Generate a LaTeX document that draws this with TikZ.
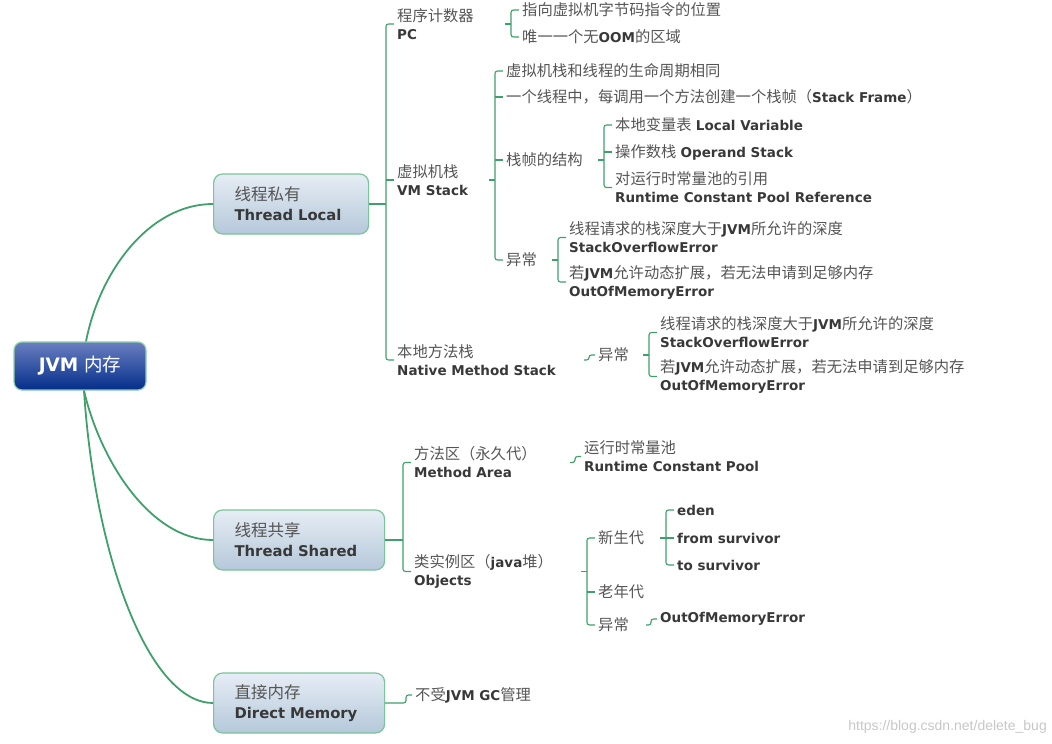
\documentclass[tikz,border=0pt]{standalone}
\usepackage{fontspec}
\setmainfont{DejaVu Sans}
\newfontfamily\cjk{Noto Sans CJK SC}
\newfontfamily\wmfont{Liberation Sans}
\usetikzlibrary{calc}
\definecolor{lnk}{HTML}{3FA06C}
\definecolor{boxb}{HTML}{79C49A}
\definecolor{boxt}{HTML}{E6EDF5}
\definecolor{boxbtm}{HTML}{B5C8DA}
\definecolor{roott}{HTML}{6A7FC0}
\definecolor{rootm}{HTML}{1C3D94}
\definecolor{rootb}{HTML}{032E8A}
\definecolor{rootbd}{HTML}{8FD0A8}
\definecolor{zhc}{HTML}{555555}
\definecolor{enc}{HTML}{383838}
\newcommand\zh[1]{{\cjk\fontsize{15.3}{18}\selectfont\color{zhc}#1}}
\newcommand\en[1]{{\bfseries\color{enc}#1}}
\newcommand\zhb[1]{{\cjk\fontsize{16.5}{20}\selectfont\color{zhc}#1}}
\newcommand\leaffont{\fontsize{13.5}{18}\selectfont}
\newcommand\boxfont{\fontsize{14.8}{20}\selectfont}
\begin{document}
\begin{tikzpicture}[x=1pt,y=-1pt,
  conn/.style={draw=lnk,line width=1.1pt,rounded corners=2.5pt},
  trunk/.style={draw=lnk,line width=1.8pt},
  leaf/.style={anchor=west,xshift=-3pt,inner xsep=3pt,inner ysep=1pt,align=left,font=\leaffont},
  mbox/.style={anchor=west,draw=boxb,line width=1.2pt,rounded corners=9pt,
    top color=boxt,bottom color=boxbtm,inner xsep=21pt,minimum height=60pt,align=left,font=\boxfont},
  rootbox/.style={draw=rootbd,line width=1.2pt,rounded corners=8pt,top color=roott,
    middle color=rootm,bottom color=rootb,minimum width=132pt,minimum height=48pt,
    text=white,font=\fontsize{18.5}{20}\selectfont}
]
\useasboundingbox (0,0) rectangle (1052,744);

% main boxes
\node[rootbox] (root) at (80,366) {\textbf{JVM} {\cjk 内存}};
\node[mbox,text width=113pt] (tl) at (213,204) {\zhb{线程私有}\\\en{Thread Local}};
\node[mbox,text width=129pt] (ts) at (213,540) {\zhb{线程共享}\\\en{Thread Shared}};
\node[mbox,text width=129pt] (dm) at (213,703) {\zhb{直接内存}\\\en{Direct Memory}};

\draw[trunk] ([xshift=6pt]root.north) .. controls (100,270) and (150,204) .. (tl.west);
\draw[trunk] ([xshift=4pt]root.south) .. controls (100,460) and (150,540) .. (ts.west);
\draw[trunk] ([xshift=4pt]root.south) .. controls (95,560) and (150,703) .. (dm.west);

% Thread Local children
\node[leaf] (pc) at (397,24) {\zh{程序计数器}\\\en{PC}};
\node[leaf] (vms) at (397,180) {\zh{虚拟机栈}\\\en{VM Stack}};
\node[leaf] (nms) at (397,360) {\zh{本地方法栈}\\\en{Native Method Stack}};

\node[leaf] (pc1) at (522,10) {\zh{指向虚拟机字节码指令的位置}};
\node[leaf] (pc2) at (522,37) {\zh{唯一一个无}\en{OOM}\zh{的区域}};

\node[leaf] (v1) at (506,71) {\zh{虚拟机栈和线程的生命周期相同}};
\node[leaf] (v2) at (506,97) {\zh{一个线程中，每调用一个方法创建一个栈帧（}\en{Stack Frame}\zh{）}};
\node[leaf] (v3) at (506,160) {\zh{栈帧的结构}};
\node[leaf] (v4) at (506,260) {\zh{异常}};

\node[leaf] (f1) at (615,125) {\zh{本地变量表} \en{Local Variable}};
\node[leaf] (f2) at (615,152) {\zh{操作数栈} \en{Operand Stack}};
\node[leaf] (f3) at (615,187.5) {\zh{对运行时常量池的引用}\\\en{Runtime Constant Pool Reference}};

\node[leaf] (e1) at (569,237.5) {\zh{线程请求的栈深度大于}\en{JVM}\zh{所允许的深度}\\\en{StackOverflowError}};
\node[leaf] (e2) at (569,282) {\zh{若}\en{JVM}\zh{允许动态扩展，若无法申请到足够内存}\\\en{OutOfMemoryError}};

\node[leaf] (ne) at (598,355) {\zh{异常}};
\node[leaf] (ne1) at (660,332.5) {\zh{线程请求的栈深度大于}\en{JVM}\zh{所允许的深度}\\\en{StackOverflowError}};
\node[leaf] (ne2) at (660,376.5) {\zh{若}\en{JVM}\zh{允许动态扩展，若无法申请到足够内存}\\\en{OutOfMemoryError}};

% Thread Shared children
\node[leaf] (ma) at (414,462.5) {\zh{方法区（永久代）}\\\en{Method Area}};
\node[leaf] (ob) at (414,571.5) {\zh{类实例区（}\en{java}\zh{堆）}\\\en{Objects}};
\node[leaf] (rcp) at (584,456.5) {\zh{运行时常量池}\\\en{Runtime Constant Pool}};
\node[leaf] (yg) at (598,538) {\zh{新生代}};
\node[leaf] (og) at (598,592) {\zh{老年代}};
\node[leaf] (oe) at (598,625) {\zh{异常}};
\node[leaf] (eden) at (677,510) {\en{eden}};
\node[leaf] (fs) at (677,538) {\en{from survivor}};
\node[leaf] (tsv) at (677,565) {\en{to survivor}};
\node[leaf] (oom) at (660,619) {\en{OutOfMemoryError}};

% Direct Memory child
\node[leaf] (dm1) at (415,695) {\zh{不受}\en{JVM GC}\zh{管理}};

% watermark
\node[anchor=east,inner sep=0pt,text=black!22,font=\wmfont\fontsize{14}{16}\selectfont] (wm) at (1047,727) {https://blog.csdn.net/delete\_bug};

% ---- bracket connectors ----
% Thread Local
\coordinate (bTL) at ($(pc.west)+(-8,0)$);
\draw[conn] (tl.east) -- (tl.east -| bTL);
\draw[conn] (pc.west) -- (pc.west -| bTL) -- (nms.west -| bTL) -- (nms.west);
\draw[conn] (vms.west -| bTL) -- (vms.west);

% PC
\coordinate (bPC) at ($(pc1.west)+(-8,0)$);
\draw[conn] ($(pc.east -| bPC)+(-6,0)$) -- (pc.east -| bPC);
\draw[conn] (pc1.west) -- (pc1.west -| bPC) -- (pc2.west -| bPC) -- (pc2.west);

% VM Stack
\coordinate (bVM) at ($(v1.west)+(-8,0)$);
\draw[conn] ($(vms.east -| bVM)+(-6,0)$) -- (vms.east -| bVM);
\draw[conn] (v1.west) -- (v1.west -| bVM) -- (v4.west -| bVM) -- (v4.west);
\draw[conn] (v2.west -| bVM) -- (v2.west);
\draw[conn] (v3.west -| bVM) -- (v3.west);

% frame structure
\coordinate (bF) at ($(f1.west)+(-8,0)$);
\draw[conn] ($(v3.east -| bF)+(-6,0)$) -- (v3.east -| bF);
\draw[conn] (f1.west) -- (f1.west -| bF) -- (f3.west -| bF) -- (f3.west);
\draw[conn] (f2.west -| bF) -- (f2.west);

% VM stack exceptions
\coordinate (bE) at ($(e1.west)+(-8,0)$);
\draw[conn] ($(v4.east -| bE)+(-6,0)$) -- (v4.east -| bE);
\draw[conn] (e1.west) -- (e1.west -| bE) -- (e2.west -| bE) -- (e2.west);

% Native method stack -> exception
\coordinate (bN) at ($(ne.west)+(-6,0)$);
\draw[conn] ($(nms.east -| bN)+(-5,0)$) -- (nms.east -| bN) -- (ne.west -| bN) -- (ne.west);
\coordinate (bNE) at ($(ne1.west)+(-8,0)$);
\draw[conn] ($(ne.east -| bNE)+(-6,0)$) -- (ne.east -| bNE);
\draw[conn] (ne1.west) -- (ne1.west -| bNE) -- (ne2.west -| bNE) -- (ne2.west);

% Thread Shared
\coordinate (bTS) at ($(ma.west)+(-8,0)$);
\draw[conn] (ts.east) -- (ts.east -| bTS);
\draw[conn] (ma.west) -- (ma.west -| bTS) -- (ob.west -| bTS) -- (ob.west);

% Method area -> runtime constant pool
\coordinate (bMA) at ($(rcp.west)+(-6,0)$);
\draw[conn] ($(ma.east -| bMA)+(-5,0)$) -- (ma.east -| bMA) -- (rcp.west -| bMA) -- (rcp.west);

% Objects
\coordinate (bOB) at ($(yg.west)+(-8,0)$);
\draw[conn] ($(ob.east -| bOB)+(-6,0)$) -- (ob.east -| bOB);
\draw[conn] (yg.west) -- (yg.west -| bOB) -- (oe.west -| bOB) -- (oe.west);
\draw[conn] (og.west -| bOB) -- (og.west);

% young generation
\coordinate (bYG) at ($(eden.west)+(-8,0)$);
\draw[conn] ($(yg.east -| bYG)+(-6,0)$) -- (yg.east -| bYG);
\draw[conn] (eden.west) -- (eden.west -| bYG) -- (tsv.west -| bYG) -- (tsv.west);
\draw[conn] (fs.west -| bYG) -- (fs.west);

% old exception -> OOM
\coordinate (bOE) at ($(oom.west)+(-6,0)$);
\draw[conn] ($(oe.east -| bOE)+(-5,0)$) -- (oe.east -| bOE) -- (oom.west -| bOE) -- (oom.west);

% Direct memory
\coordinate (bDM) at ($(dm1.west)+(-6,0)$);
\draw[conn] (dm.east) -- (dm.east -| bDM) -- (dm1.west -| bDM) -- (dm1.west);
\end{tikzpicture}
\end{document}
